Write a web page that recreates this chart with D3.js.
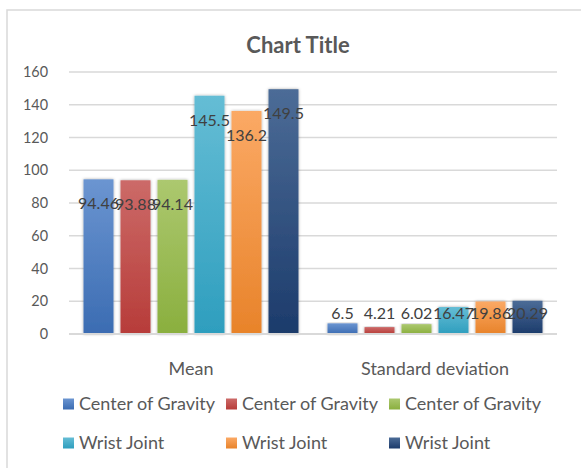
<!DOCTYPE html>
<html>
<head>
<meta charset="utf-8">
<script src="https://cdn.jsdelivr.net/npm/d3@7"></script>
<style>
  html, body { margin: 0; padding: 0; background: #fff; }
  svg { display: block; }
  text { font-family: Lato, "Noto Sans", sans-serif; }
</style>
</head>
<body>
<svg id="chart" width="581" height="468"></svg>
<script>
// Chart data
const categories = ["Mean", "Standard deviation"];
const seriesNames = ["Center of Gravity", "Center of Gravity", "Center of Gravity",
                     "Wrist Joint", "Wrist Joint", "Wrist Joint"];
const meanValues = [94.46, 93.88, 94.14, 145.5, 136.2, 149.5];
const sdValues = [6.5, 4.21, 6.02, 16.47, 19.86, 20.29];
const yTicks = [0, 20, 40, 60, 80, 100, 120, 140, 160];

// Gradient stops per series: [top, bottom]
const seriesColors = [
  ["#6b95d1", "#3b6cb2"],
  ["#cc6a68", "#b73c39"],
  ["#acc86f", "#8aaf3e"],
  ["#65bdd5", "#2e9ebe"],
  ["#fba965", "#e8832a"],
  ["#4c6c97", "#1c3b6b"]
];

const valuesByCategory = [meanValues, sdValues];

const svg = d3.select("#chart");
const defs = svg.append("defs");

seriesColors.forEach((c, i) => {
  const g = defs.append("linearGradient")
    .attr("id", "grad" + i)
    .attr("x1", 0).attr("y1", 0).attr("x2", 0).attr("y2", 1);
  g.append("stop").attr("offset", "0%").attr("stop-color", c[0]);
  g.append("stop").attr("offset", "100%").attr("stop-color", c[1]);
});

const shadow = defs.append("filter").attr("id", "barShadow")
  .attr("x", "-30%").attr("y", "-10%").attr("width", "160%").attr("height", "120%");
shadow.append("feDropShadow")
  .attr("dx", 0).attr("dy", 0).attr("stdDeviation", 1.8)
  .attr("flood-color", "#000").attr("flood-opacity", 0.35);

// Chart frame
svg.append("rect")
  .attr("x", 7).attr("y", 10)
  .attr("width", 600).attr("height", 480)
  .attr("fill", "#fff")
  .attr("stroke", "#d9d9d9").attr("stroke-width", 1.5);

// Title
svg.append("text")
  .attr("x", 298).attr("y", 53)
  .attr("text-anchor", "middle")
  .attr("font-size", 22).attr("font-weight", "bold")
  .attr("fill", "#595959")
  .text("Chart Title");

// Scales
const plotLeft = 69, plotRight = 557;
const y = d3.scaleLinear().domain([0, 160]).range([334, 72]);
const x0 = d3.scaleBand().domain(categories).range([plotLeft, plotRight])
  .paddingInner(0.119).paddingOuter(0.0595);
const x1 = d3.scaleBand().domain(d3.range(6)).range([0, x0.bandwidth()])
  .paddingInner(0.19).paddingOuter(0);

// Gridlines
svg.append("g")
  .selectAll("line")
  .data(yTicks.filter(t => t !== 0))
  .join("line")
  .attr("x1", plotLeft).attr("x2", plotRight)
  .attr("y1", d => y(d)).attr("y2", d => y(d))
  .attr("stroke", "#d9d9d9").attr("stroke-width", 1.5);

// Y axis labels
const yAxis = d3.axisLeft(y).tickValues(yTicks).tickSize(0).tickPadding(0);
const yAxisG = svg.append("g")
  .attr("transform", "translate(48,0)")
  .call(yAxis);
yAxisG.select(".domain").remove();
yAxisG.selectAll("text")
  .attr("font-family", "Lato, 'Noto Sans', sans-serif")
  .attr("font-size", 14.4)
  .attr("fill", "#595959");

// Bars
const groups = svg.append("g")
  .selectAll("g")
  .data(categories)
  .join("g")
  .attr("transform", d => `translate(${x0(d)},0)`);

groups.selectAll("rect")
  .data((d, ci) => valuesByCategory[ci].map((v, si) => ({ v, si })))
  .join("rect")
  .attr("x", d => x1(d.si))
  .attr("width", x1.bandwidth())
  .attr("y", d => y(d.v))
  .attr("height", d => y(0) - y(d.v))
  .attr("fill", d => `url(#grad${d.si})`)
  .attr("filter", "url(#barShadow)");

// Baseline
svg.append("line")
  .attr("x1", plotLeft).attr("x2", plotRight)
  .attr("y1", y(0)).attr("y2", y(0))
  .attr("stroke", "#d9d9d9").attr("stroke-width", 2);

// Data labels, placed inside the bar end, kept above the baseline
groups.selectAll("text.lbl")
  .data((d, ci) => valuesByCategory[ci].map((v, si) => ({ v, si })))
  .join("text")
  .attr("class", "lbl")
  .attr("x", d => x1(d.si) + x1.bandwidth() / 2)
  .attr("y", d => Math.min(y(d.v) + 24, y(0) - 21))
  .attr("dy", "0.36em")
  .attr("text-anchor", "middle")
  .attr("font-size", 16)
  .attr("fill", "#404040")
  .text(d => d.v);

// Category labels
svg.append("g")
  .selectAll("text")
  .data(categories)
  .join("text")
  .attr("x", d => x0(d) + x0.bandwidth() / 2)
  .attr("y", 375)
  .attr("text-anchor", "middle")
  .attr("font-size", 18)
  .attr("fill", "#595959")
  .text(d => d);

// Legend
const legendCols = [63, 226, 389];
const legendRows = [404, 443];
const legend = svg.append("g")
  .selectAll("g")
  .data(seriesNames)
  .join("g")
  .attr("transform", (d, i) => `translate(${legendCols[i % 3]},${legendRows[Math.floor(i / 3)]})`);
legend.append("rect")
  .attr("x", 0).attr("y", -5.5)
  .attr("width", 11).attr("height", 11)
  .attr("fill", (d, i) => `url(#grad${i})`);
legend.append("text")
  .attr("x", 16).attr("y", 0)
  .attr("dy", "0.36em")
  .attr("font-size", 18)
  .attr("fill", "#595959")
  .text(d => d);
</script>
</body>
</html>
